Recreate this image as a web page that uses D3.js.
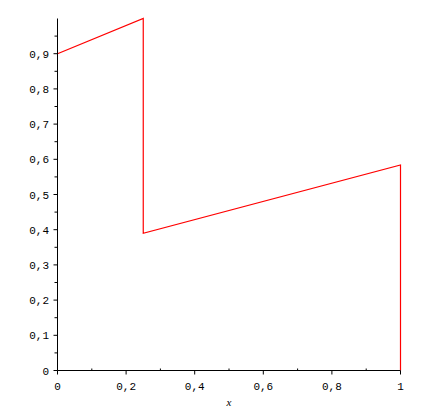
<!DOCTYPE html>
<html><head><meta charset="utf-8">
<script src="https://cdn.jsdelivr.net/npm/d3@7"></script>
<style>body{margin:0;background:#fff}svg{display:block}</style>
</head><body>
<svg id="c" width="438" height="417"></svg>
<script>
const xs = [0, 0.25, 0.25, 1, 1];
const ys = [0.9, 1.0, 0.39, 0.584, 0];
const xTicks = [0, 0.2, 0.4, 0.6, 0.8, 1];
const xTickLabels = ["0", "0,2", "0,4", "0,6", "0,8", "1"];
const xMinor = [0.1, 0.3, 0.5, 0.7, 0.9];
const yTicks = [0, 0.1, 0.2, 0.3, 0.4, 0.5, 0.6, 0.7, 0.8, 0.9];
const yTickLabels = ["0", "0,1", "0,2", "0,3", "0,4", "0,5", "0,6", "0,7", "0,8", "0,9"];
const yMinor = [0.05, 0.15, 0.25, 0.35, 0.45, 0.55, 0.65, 0.75, 0.85, 0.95];
const xLabel = "x";

const svg = d3.select("#c");
const x = d3.scaleLinear().domain([0, 1]).range([57.5, 400.5]);
const y = d3.scaleLinear().domain([0, 1]).range([370.5, 18.5]);
const font = "'Liberation Mono', monospace";

// red line
svg.append("path")
  .datum(xs.map((v, i) => [v, ys[i]]))
  .attr("fill", "none").attr("stroke", "#ff0000").attr("stroke-width", 1.2)
  .attr("d", d3.line().x(d => x(d[0])).y(d => y(d[1])));

// axes lines
svg.append("line").attr("x1", x(0)).attr("x2", x(1)).attr("y1", y(0)).attr("y2", y(0)).attr("stroke", "#000");
svg.append("line").attr("x1", x(0)).attr("x2", x(0)).attr("y1", y(0)).attr("y2", y(1)).attr("stroke", "#000");

// x ticks
svg.selectAll(".xt").data(xTicks).enter().append("line")
  .attr("x1", d => x(d)).attr("x2", d => x(d)).attr("y1", y(0)).attr("y2", y(0) + 4).attr("stroke", "#000");
svg.selectAll(".xm").data(xMinor).enter().append("line")
  .attr("x1", d => x(d)).attr("x2", d => x(d)).attr("y1", y(0)).attr("y2", y(0) - 2).attr("stroke", "#000");
svg.selectAll(".xl").data(xTicks).enter().append("text")
  .attr("x", d => x(d)).attr("y", 390).attr("text-anchor", "middle")
  .attr("font-family", font).attr("font-size", 11).text((d, i) => xTickLabels[i]);

// y ticks
svg.selectAll(".yt").data(yTicks).enter().append("line")
  .attr("x1", x(0) - 4).attr("x2", x(0)).attr("y1", d => y(d)).attr("y2", d => y(d)).attr("stroke", "#000");
svg.selectAll(".ym").data(yMinor).enter().append("line")
  .attr("x1", x(0) - 3).attr("x2", x(0)).attr("y1", d => y(d)).attr("y2", d => y(d)).attr("stroke", "#000");
svg.selectAll(".yl").data(yTicks).enter().append("text")
  .attr("x", 49).attr("y", d => y(d) + 4).attr("text-anchor", "end")
  .attr("font-family", font).attr("font-size", 11).text((d, i) => yTickLabels[i]);

// x label
svg.append("text").attr("x", 229).attr("y", 406).attr("text-anchor", "middle")
  .attr("font-family", "'Liberation Serif', serif").attr("font-style", "italic").attr("font-size", 11).text(xLabel);
</script>
</body></html>
